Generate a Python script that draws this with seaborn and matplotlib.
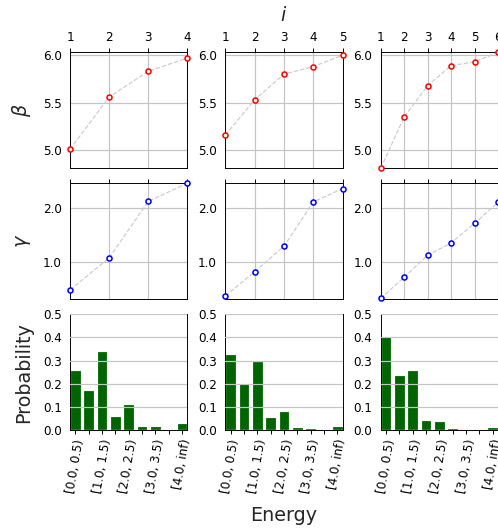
import matplotlib
matplotlib.use("Agg")
import matplotlib.pyplot as plt
import seaborn as sns

sns.set_style("white")
plt.rcParams["font.family"] = ["DejaVu Sans"]

# values, one list per panel
beta_1 = [5.01, 5.56, 5.83, 5.97]
beta_2 = [5.16, 5.53, 5.80, 5.88, 6.00]
beta_3 = [4.81, 5.35, 5.68, 5.89, 5.93, 6.03]

gamma_1 = [0.47, 1.07, 2.13, 2.47]
gamma_2 = [0.36, 0.81, 1.29, 2.12, 2.37]
gamma_3 = [0.31, 0.71, 1.12, 1.35, 1.72, 2.11]

bins = ["[0.0, 0.5)", "[0.5, 1.0)", "[1.0, 1.5)", "[1.5, 2.0)", "[2.0, 2.5)",
        "[2.5, 3.0)", "[3.0, 3.5)", "[3.5, 4.0)", "[4.0, inf)"]
prob_1 = [0.259, 0.173, 0.341, 0.060, 0.112, 0.017, 0.017, 0.004, 0.030]
prob_2 = [0.329, 0.202, 0.300, 0.056, 0.082, 0.013, 0.010, 0.004, 0.017]
prob_3 = [0.406, 0.238, 0.259, 0.043, 0.039, 0.009, 0.004, 0.004, 0.013]

betas = [beta_1, beta_2, beta_3]
gammas = [gamma_1, gamma_2, gamma_3]
probs = [prob_1, prob_2, prob_3]

W, H = 499, 529
fig = plt.figure(figsize=(W / 86, H / 86), dpi=86)

lefts = [70, 225.3, 380.7]
aw = 117.4
rows = [(52.3, 168.3), (182.7, 299), (314.3, 430)]


def make_ax(col, row):
    x0 = lefts[col]
    top, bot = rows[row]
    return fig.add_axes([x0 / W, 1 - bot / H, aw / W, (bot - top) / H])


grid_kw = dict(color="#c4c4c4", lw=1.0)

for c in range(3):
    # beta row
    ax = make_ax(c, 0)
    xs = list(range(1, len(betas[c]) + 1))
    sns.lineplot(x=xs, y=betas[c], ax=ax, color="#cccccc", linestyle="--", lw=1,
                 marker="o", markersize=4.2, markerfacecolor="white",
                 markeredgecolor="red", markeredgewidth=1.3, zorder=3)
    ax.set_xlim(1, len(xs))
    ax.set_ylim(4.81, 6.03)
    ax.set_xticks(xs)
    ax.set_yticks([5.0, 5.5, 6.0])
    ax.set_yticklabels(["5.0", "5.5", "6.0"])
    ax.xaxis.tick_top()
    ax.grid(True, **grid_kw)
    for m in ax.lines:
        m.set_clip_on(False)
    if c == 0:
        ax.set_ylabel(r"$\beta$", fontsize=16, labelpad=8)
    if c == 1:
        ax.set_xlabel(r"$i$", fontsize=16, labelpad=8)
        ax.xaxis.set_label_position("top")

    # gamma row
    ax = make_ax(c, 1)
    sns.lineplot(x=xs, y=gammas[c], ax=ax, color="#cccccc", linestyle="--", lw=1,
                 marker="o", markersize=4.2, markerfacecolor="white",
                 markeredgecolor="blue", markeredgewidth=1.3, zorder=3)
    ax.set_xlim(1, len(xs))
    ax.set_ylim(0.30, 2.48)
    ax.set_xticks(xs)
    ax.set_yticks([1.0, 2.0])
    ax.set_yticklabels(["1.0", "2.0"])
    ax.xaxis.tick_top()
    ax.set_xticklabels([])
    ax.grid(True, **grid_kw)
    for m in ax.lines:
        m.set_clip_on(False)
    if c == 0:
        ax.set_ylabel(r"$\gamma$", fontsize=16, labelpad=8)

    # probability row
    ax = make_ax(c, 2)
    sns.barplot(x=bins, y=probs[c], ax=ax, color="darkgreen", saturation=1,
                width=0.8)
    ax.set_xlim(-0.4, len(bins) - 0.6)
    ax.set_ylim(0, 0.5)
    ax.set_yticks([0.0, 0.1, 0.2, 0.3, 0.4, 0.5])
    ax.set_yticklabels(["0.0", "0.1", "0.2", "0.3", "0.4", "0.5"])
    ax.set_xticks(range(len(bins)))
    ax.set_xticklabels([b if i % 2 == 0 else "" for i, b in enumerate(bins)],
                       rotation=80)
    ax.set_axisbelow(False)
    ax.yaxis.grid(True, **grid_kw)
    ax.xaxis.grid(False)
    if c == 0:
        ax.set_ylabel("Probability", fontsize=16, labelpad=8)
    if c == 1:
        ax.set_xlabel("Energy", fontsize=16, labelpad=10)

for ax in fig.axes:
    ax.tick_params(labelsize=10, length=3.5, width=0.8, colors="black",
                   bottom=ax.xaxis.get_ticks_position() != "top")
    for s in ax.spines.values():
        s.set_color("black")
        s.set_linewidth(0.8)

fig.savefig("out.png", dpi=86)
